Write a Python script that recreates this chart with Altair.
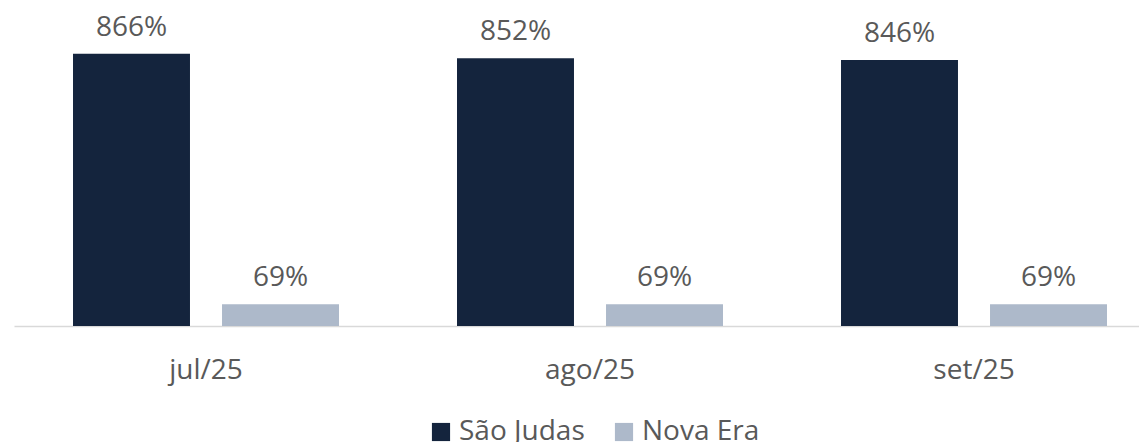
import altair as alt
import pandas as pd

months = ["jul/25", "ago/25", "set/25"]
series = ["São Judas", "Nova Era"]
sao_judas = [866, 852, 846]
nova_era = [69, 69, 69]
colors = ["#14243d", "#adb9ca"]

rows = []
for i, m in enumerate(months):
    rows.append({"month": m, "series": series[0], "value": sao_judas[i]})
    rows.append({"month": m, "series": series[1], "value": nova_era[i]})
df = pd.DataFrame(rows)
df["label"] = df["value"].astype(str) + "%"

FONT = "Open Sans"
TXT = "#595959"
FS = 28

x = alt.X("month:N", sort=months, title=None,
          scale=alt.Scale(paddingInner=0, paddingOuter=0, range=[0, 1152]),
          axis=alt.Axis(labelAngle=0, ticks=False, domainColor="#d9d9d9", domainWidth=1.5,
                        labelFont=FONT, labelFontSize=FS, labelColor=TXT, labelPadding=30))
xo = alt.XOffset("series:N", sort=series,
                 scale=alt.Scale(paddingInner=0.215, paddingOuter=0.396))
y = alt.Y("value:Q", scale=alt.Scale(domain=[0, 980], nice=False), axis=None)

bars = alt.Chart(df).mark_bar().encode(
    x=x, xOffset=xo, y=y,
    color=alt.Color("series:N", sort=series, title=None,
                    scale=alt.Scale(domain=series, range=colors),
                    legend=alt.Legend(orient="none", legendX=413, legendY=400, direction="horizontal",
                                      symbolType="square", symbolSize=330, symbolStrokeWidth=0,
                                      labelFont=FONT, labelFontSize=FS, labelColor=TXT,
                                      columnPadding=25, symbolOffset=0, labelOffset=4)),
)
text = alt.Chart(df).mark_text(baseline="bottom", dy=-12, font=FONT, fontSize=FS, color=TXT).encode(
    x=x, xOffset=xo, y=y, text="label:N"
)

chart = (bars + text).properties(
    width=1125, height=308,
    padding={"left": 6, "top": 10, "right": 0, "bottom": 116},
    autosize=alt.AutoSizeParams(type="none"),
).configure_view(stroke=None)

chart.save("out.html", embed_options={"renderer": "svg", "actions": False})
